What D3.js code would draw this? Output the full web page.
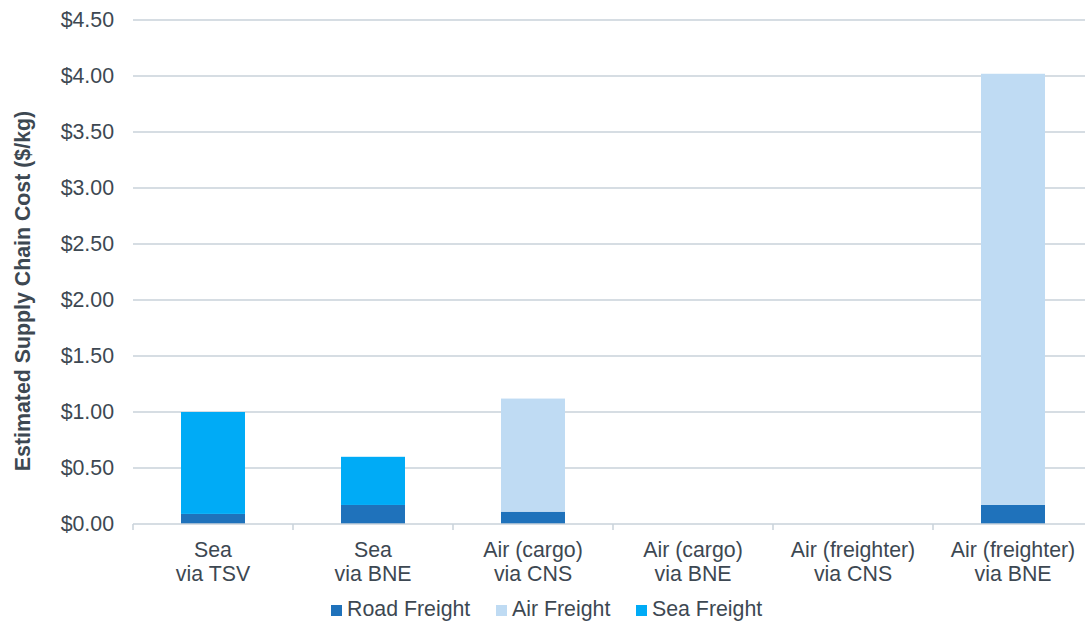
<!DOCTYPE html>
<html><head><meta charset="utf-8">
<script src="https://cdn.jsdelivr.net/npm/d3@7"></script>
<style>body{margin:0;background:#fff}svg{display:block}text{font-family:"Liberation Sans",Arial,sans-serif;fill:#3d4852}</style>
</head><body><svg id="c" width="1085" height="622"></svg>
<script>
const categories = [["Sea","via TSV"],["Sea","via BNE"],["Air (cargo)","via CNS"],["Air (cargo)","via BNE"],["Air (freighter)","via CNS"],["Air (freighter)","via BNE"]];
const seriesNames = ["Road Freight","Air Freight","Sea Freight"];
const roadFreight = [0.09, 0.17, 0.11, 0, 0, 0.17];
const airFreight = [0, 0, 1.01, 0, 0, 3.85];
const seaFreight = [0.91, 0.43, 0, 0, 0, 0];
const yTicks = [0,0.5,1,1.5,2,2.5,3,3.5,4,4.5];
const colors = ["#1f72bb","#bfdbf3","#00abf6"];

const FS = "21.33px";
const svg = d3.select("#c");
const x0 = 133, x1 = 1093, yTop = 20, yBot = 524;
const keys = categories.map((c,i)=>i);
const x = d3.scaleBand().domain(keys).range([x0,x1]).paddingInner(0.6).paddingOuter(0.3);
const xb = d3.scaleBand().domain(keys).range([x0,x1]);
const y = d3.scaleLinear().domain([0,4.5]).range([yBot,yTop]);

// gridlines
svg.append("g").selectAll("line").data(yTicks.filter(t=>t>0)).join("line")
  .attr("x1",x0).attr("x2",x1).attr("y1",d=>y(d)).attr("y2",d=>y(d))
  .attr("stroke","#c9d2da").attr("stroke-width",1.5);
// y labels
svg.append("g").selectAll("text").data(yTicks).join("text")
  .attr("x",114).attr("y",d=>y(d)).attr("dy","0.35em").attr("text-anchor","end")
  .style("font-size",FS).text(d=>"$"+d.toFixed(2));

// stacked bars
const rows = keys.map(i=>({i, "Road Freight":roadFreight[i], "Air Freight":airFreight[i], "Sea Freight":seaFreight[i]}));
const stack = d3.stack().keys(seriesNames)(rows);
svg.append("g").selectAll("g").data(stack).join("g").attr("fill",(d,k)=>colors[k])
  .selectAll("rect").data(d=>d.filter(s=>s[1]-s[0]>0)).join("rect")
  .attr("x",d=>x(d.data.i)).attr("width",x.bandwidth())
  .attr("y",d=>y(d[1])).attr("height",d=>y(d[0])-y(d[1]));

// x axis line and ticks
svg.append("line").attr("x1",x0).attr("x2",x1).attr("y1",yBot).attr("y2",yBot).attr("stroke","#c9d2da").attr("stroke-width",1.5);
svg.append("g").selectAll("line").data(d3.range(categories.length+1)).join("line")
  .attr("x1",d=>x0+d*xb.bandwidth()).attr("x2",d=>x0+d*xb.bandwidth())
  .attr("y1",yBot).attr("y2",yBot+6).attr("stroke","#c9d2da").attr("stroke-width",1.5);

// category labels
const cl = svg.append("g").selectAll("text").data(categories).join("text")
  .attr("text-anchor","middle").style("font-size",FS)
  .attr("transform",(d,i)=>`translate(${xb(i)+xb.bandwidth()/2},0)`);
cl.append("tspan").attr("x",0).attr("y",557).text(d=>d[0]);
cl.append("tspan").attr("x",0).attr("y",581).text(d=>d[1]);

// y title
svg.append("text").attr("transform",`translate(30,291) rotate(-90)`)
  .attr("text-anchor","middle").style("font-size",FS).style("font-weight","bold")
  .text("Estimated Supply Chain Cost ($/kg)");

// legend
const legX = [331,496,636];
const lg = svg.append("g").selectAll("g").data(seriesNames).join("g")
  .attr("transform",(d,i)=>`translate(${legX[i]},605)`);
lg.append("rect").attr("width",11).attr("height",11).attr("fill",(d,i)=>colors[i]);
lg.append("text").attr("x",16).attr("y",11).style("font-size",FS).text(d=>d);
</script></body></html>
